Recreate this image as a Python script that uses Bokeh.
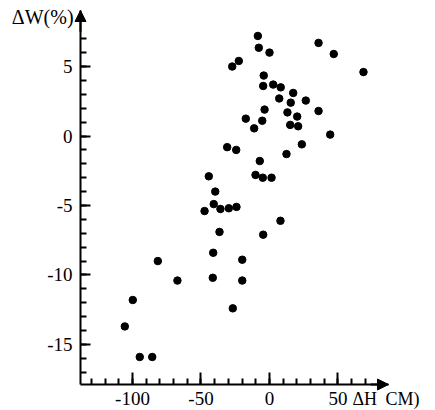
from bokeh.plotting import figure
from bokeh.models import FixedTicker, Label, Arrow, NormalHead, LinearAxis
from bokeh.embed import file_html
from bokeh.resources import INLINE

# data: ΔH (cm) and ΔW (%)
dh = [-8.5, -7.8, 0.0, 35.8, 46.9, -22.4, -27.2, 68.6, -4.2, -4.6,
      2.7, 8.2, 17.3, 7.1, 15.5, 26.5, -3.6, 13.1, 20.2, 35.8,
      -17.3, -5.3, -11.2, 15.1, 20.9, 44.3, 23.6, -30.9, -24.3, 12.4,
      -7.1, -44.3, -10.2, -4.9, 1.5, -39.6, -47.4, -40.7, -35.8, -29.7,
      -24.1, -36.5, -4.6, 8.0, -41.1, -19.9, -41.4, -19.9, -26.8, -81.5,
      -67.2, -99.8, -105.6, -94.7, -85.6]
dw = [7.2, 6.35, 6.0, 6.7, 5.9, 5.4, 5.0, 4.6, 4.35, 3.6,
      3.7, 3.5, 3.1, 2.7, 2.4, 2.55, 1.9, 1.7, 1.4, 1.8,
      1.25, 1.1, 0.55, 0.8, 0.7, 0.1, -0.6, -0.8, -1.0, -1.3,
      -1.8, -2.9, -2.8, -3.0, -3.0, -4.0, -5.4, -4.9, -5.25, -5.2,
      -5.1, -6.9, -7.1, -6.1, -8.4, -8.9, -10.2, -10.4, -12.4, -9.0,
      -10.4, -11.8, -13.7, -15.9, -15.9]

x_major = [-100, -50, 0, 50]
x_major_labels = ["-100", "-50", "0", "50"]
x_minor = [-130, -120, -110, -100, -90, -80, -70, -60, -50, -40, -30, -20,
           -10, 0, 10, 20, 30, 40, 50, 60, 70]
y_major = [-15, -10, -5, 0, 5]
y_major_labels = ["-15", "-10", "-5", "0", "5"]
y_minor = list(range(-17, 8))

y_title = "ΔW(%)"
x_title_a = "ΔH"
x_title_b = "CM)"

FONT = "Liberation Serif"

# extent of the drawn axes (data units)
AX_X0, AX_X1 = -137.96, 86.86
AX_Y0, AX_Y1 = -17.88, 9.03

p = figure(width=435, height=410, output_backend="svg", toolbar_location=None,
           x_range=(-196.35, 121.17), y_range=(-19.75, 9.75),
           x_axis_location=None, y_axis_location=None,
           min_border=0)
p.grid.visible = False
p.outline_line_color = None
p.background_fill_color = "white"
p.border_fill_color = "white"

p.scatter(dh, dw, size=7.5, color="black")

xaxis = LinearAxis(fixed_location=AX_Y0, bounds=(AX_X0, AX_X1))
yaxis = LinearAxis(fixed_location=AX_X0, bounds=(AX_Y0, AX_Y1))
p.add_layout(xaxis, "below")
p.add_layout(yaxis, "left")

for ax, maj, lab, mino, tin in ((xaxis, x_major, x_major_labels, x_minor, 12),
                                (yaxis, y_major, y_major_labels, y_minor, 10)):
    ax.ticker = FixedTicker(ticks=maj, minor_ticks=mino)
    ax.major_label_overrides = {t: s for t, s in zip(maj, lab)}
    ax.axis_line_width = 2
    ax.axis_line_color = "black"
    ax.major_tick_in = tin
    ax.major_tick_out = 0
    ax.minor_tick_in = 6
    ax.minor_tick_out = 0
    ax.major_tick_line_width = 2
    ax.minor_tick_line_width = 2
    ax.major_tick_line_color = "black"
    ax.minor_tick_line_color = "black"
    ax.major_label_text_font = FONT
    ax.major_label_text_font_size = "19px"
    ax.major_label_text_color = "black"

xaxis.major_label_standoff = 7
yaxis.major_label_standoff = 8

p.add_layout(Label(x=-143.0, y=8.53, text=y_title, text_align="right",
                   text_baseline="middle", text_font=FONT,
                   text_font_size="20px", text_color="black"))
p.add_layout(Label(x=60.6, y=-18.9, text=x_title_a, text_align="left",
                   text_baseline="middle", text_font=FONT,
                   text_font_size="18px", text_color="black"))
p.add_layout(Label(x=84.7, y=-18.9, text=x_title_b, text_align="left",
                   text_baseline="middle", text_font=FONT,
                   text_font_size="18px", text_color="black"))

p.add_layout(Arrow(end=NormalHead(size=11, fill_color="black", line_color="black"),
                   x_start=AX_X0, y_start=7.5, x_end=AX_X0, y_end=AX_Y1,
                   line_width=2, line_color="black"))
p.add_layout(Arrow(end=NormalHead(size=11, fill_color="black", line_color="black"),
                   x_start=74, y_start=AX_Y0, x_end=AX_X1, y_end=AX_Y0,
                   line_width=2, line_color="black"))

open("out.html", "w").write(file_html(p, INLINE))
